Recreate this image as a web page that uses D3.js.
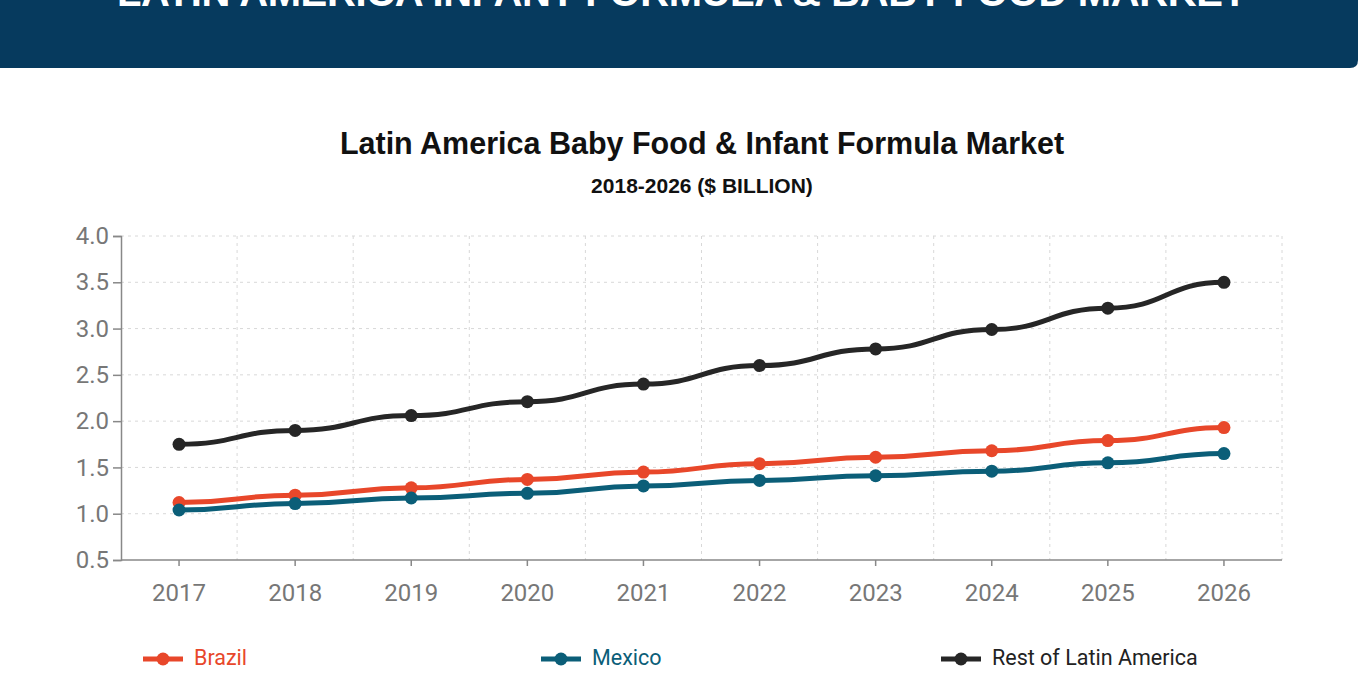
<!DOCTYPE html><html><head><meta charset="utf-8"><script src="https://cdn.jsdelivr.net/npm/d3@7"></script>
<style>body{margin:0;background:#fff;font-family:Roboto,Arial,sans-serif}</style></head><body><svg id="c" width="1360" height="680"></svg>
<script>
const years=["2017","2018","2019","2020","2021","2022","2023","2024","2025","2026"];
const brazil=[1.12,1.20,1.28,1.37,1.45,1.54,1.61,1.68,1.79,1.93];
const mexico=[1.04,1.11,1.17,1.22,1.30,1.36,1.41,1.46,1.55,1.65];
const rest=[1.75,1.90,2.06,2.21,2.40,2.60,2.78,2.99,3.22,3.50];
const yTicks=[0.5,1.0,1.5,2.0,2.5,3.0,3.5,4.0];
const series=[{name:"Brazil",v:brazil,c:"#e8472a",lx:143},{name:"Mexico",v:mexico,c:"#0b5e78",lx:541},{name:"Rest of Latin America",v:rest,c:"#262626",lx:941}];
const svg=d3.select("#c");
svg.append("path").attr("d","M0,0H1358V60Q1358,68 1350,68H0Z").attr("fill","#063a5e");
svg.append("text").attr("x",682).attr("y",6).attr("text-anchor","middle").attr("fill","#fff").attr("font-family","Liberation Sans Narrow,Arial Narrow,Liberation Sans,sans-serif").attr("font-size",40).attr("font-weight","bold").attr("textLength",1130).text("LATIN AMERICA INFANT FORMULA & BABY FOOD MARKET");
svg.append("text").attr("x",702).attr("y",154).attr("text-anchor","middle").attr("font-family","Liberation Sans,Arial,sans-serif").attr("font-weight","bold").attr("font-size",30.5).attr("fill","#111").text("Latin America Baby Food & Infant Formula Market");
svg.append("text").attr("x",702).attr("y",193).attr("text-anchor","middle").attr("font-family","Liberation Sans,Arial,sans-serif").attr("font-weight","bold").attr("font-size",21).attr("fill","#111").text("2018-2026 ($ BILLION)");
const x=d3.scaleBand().domain(years).range([121,1282]);
const y=d3.scaleLinear().domain([0.5,4.0]).range([560,236]);
const g=svg.append("g");
g.selectAll(".hg").data(yTicks.slice(1)).join("line").attr("x1",121).attr("x2",1282).attr("y1",d=>y(d)).attr("y2",d=>y(d)).attr("stroke","#d8d8d8").attr("stroke-dasharray","3,4");
g.selectAll(".vg").data(years.slice(1).concat(["end"])).join("line").attr("x1",(d,i)=>121+x.step()*(i+1)).attr("x2",(d,i)=>121+x.step()*(i+1)).attr("y1",236).attr("y2",560).attr("stroke","#d8d8d8").attr("stroke-dasharray","3,4");
const ax=svg.append("g").attr("transform","translate(0,560)").call(d3.axisBottom(x).tickSize(6).tickPadding(18));
const ay=svg.append("g").attr("transform","translate(121,0)").call(d3.axisLeft(y).tickValues(yTicks).tickFormat(d3.format(".1f")).tickSize(8).tickPadding(4));
[ax,ay].forEach(a=>{a.selectAll("path,line").attr("stroke","#888").attr("stroke-width",1.5);a.selectAll("text").attr("fill","#777").attr("font-size",24).attr("font-family","Roboto,Arial,sans-serif");});
ax.select(".domain").attr("d","M121,0H1282");
const line=d3.line().x((d,i)=>x(years[i])+x.bandwidth()/2).y(d=>y(d)).curve(d3.curveBumpX);
series.forEach(s=>{
 svg.append("path").attr("d",line(s.v)).attr("fill","none").attr("stroke",s.c).attr("stroke-width",5);
 svg.selectAll(null).data(s.v).join("circle").attr("cx",(d,i)=>x(years[i])+x.bandwidth()/2).attr("cy",d=>y(d)).attr("r",6.5).attr("fill",s.c);
 svg.append("line").attr("x1",s.lx).attr("x2",s.lx+40).attr("y1",659).attr("y2",659).attr("stroke",s.c).attr("stroke-width",5);
 svg.append("circle").attr("cx",s.lx+20).attr("cy",659).attr("r",6.5).attr("fill",s.c);
 svg.append("text").attr("x",s.lx+51).attr("y",665).attr("font-size",21.5).attr("font-family","Roboto,Arial,sans-serif").attr("fill",s.name==="Rest of Latin America"?"#222":s.c).text(s.name);
});
</script></body></html>
